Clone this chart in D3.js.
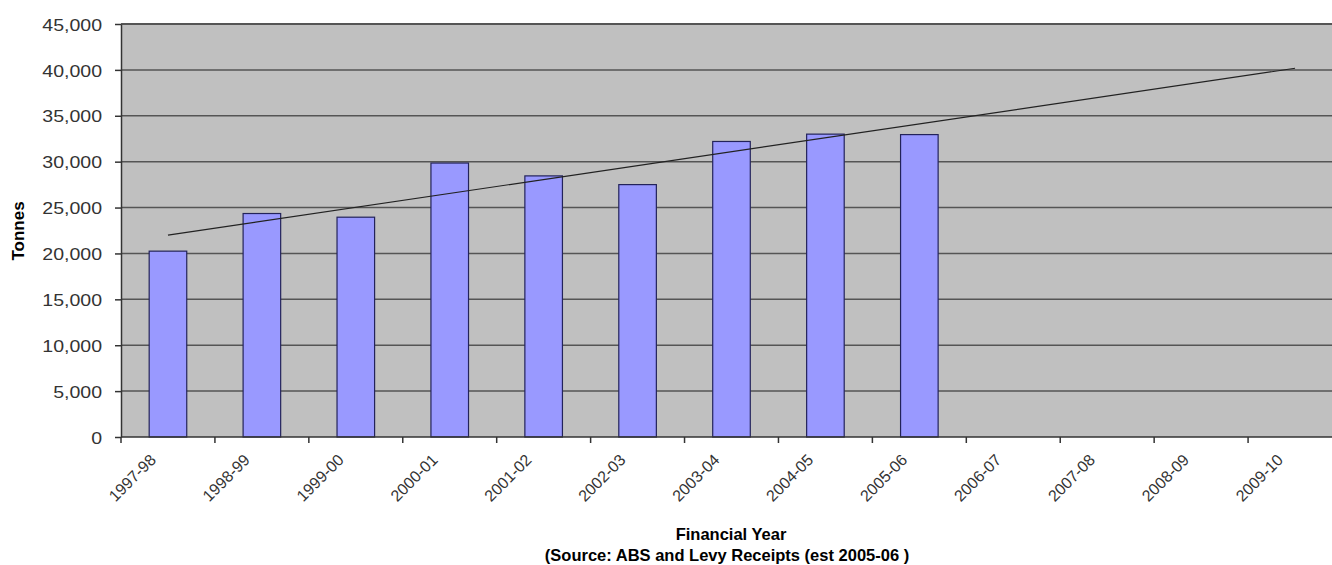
<!DOCTYPE html>
<html>
<head>
<meta charset="utf-8">
<script src="https://cdn.jsdelivr.net/npm/d3@7"></script>
<style>
  html, body { margin: 0; padding: 0; background: #fff; overflow: hidden; }
  svg { display: block; }
</style>
</head>
<body>
<svg id="chart" width="1332" height="565"></svg>
<script>
const categories = ["1997-98","1998-99","1999-00","2000-01","2001-02","2002-03","2003-04","2004-05","2005-06","2006-07","2007-08","2008-09","2009-10"];
const tonnes = [20250, 24350, 23950, 29850, 28450, 27500, 32200, 33000, 32950];
const yTicks = [0, 5000, 10000, 15000, 20000, 25000, 30000, 35000, 40000, 45000];
const yTitle = "Tonnes";
const xTitle = "Financial Year";
const sourceNote = "(Source: ABS and Levy Receipts (est 2005-06 )";

(function() {
const svg = d3.select("#chart");
const pL = 121, pR = 1342, pT = 24, pB = 437;
const font = "Liberation Sans, Arial, sans-serif";

const x = d3.scaleBand().domain(categories).range([pL, pR]).paddingInner(0.6).paddingOuter(0.3);
const xStep = d3.scalePoint().domain(categories).range([pL, pR]).padding(0.5);
const y = d3.scaleLinear().domain([0, 45000]).range([pB, pT]);

// plot background
svg.append("rect").attr("x", pL).attr("y", pT).attr("width", pR - pL).attr("height", pB - pT).attr("fill", "#c0c0c0");

// gridlines
svg.append("g").selectAll("line").data(yTicks.filter(d => d > 0)).join("line")
  .attr("x1", pL).attr("x2", pR)
  .attr("y1", d => y(d)).attr("y2", d => y(d))
  .attr("stroke", "#555").attr("stroke-width", d => d === 45000 ? 2 : 1.5);

// bars
svg.append("g").selectAll("rect").data(tonnes).join("rect")
  .attr("x", (d, i) => x(categories[i]))
  .attr("y", d => y(d))
  .attr("width", x.bandwidth())
  .attr("height", d => y(0) - y(d))
  .attr("fill", "#9999ff")
  .attr("stroke", "#23235a").attr("stroke-width", 1.2);

// linear trend (least squares on the data, extended over all categories)
const mx = d3.mean(tonnes, (d, i) => i);
const my = d3.mean(tonnes);
const slope = d3.sum(tonnes, (d, i) => (i - mx) * (d - my)) / d3.sum(tonnes, (d, i) => (i - mx) * (i - mx));
const intercept = my - slope * mx;
const trend = categories.map((c, i) => ({c, v: intercept + slope * i}));
svg.append("path").datum([trend[0], trend[trend.length - 1]])
  .attr("d", d3.line().x(d => xStep(d.c)).y(d => y(d.v)))
  .attr("fill", "none").attr("stroke", "#222").attr("stroke-width", 1.2);

// y axis
const yAxis = d3.axisLeft(y).tickValues(yTicks).tickSize(6).tickSizeOuter(0).tickFormat(d3.format(","));
const gy = svg.append("g").attr("transform", `translate(${pL},0)`).call(yAxis);
gy.select(".domain").attr("stroke", "#333").attr("stroke-width", 1.5);
gy.selectAll(".tick line").attr("stroke", "#333").attr("stroke-width", 1.5);
gy.selectAll(".tick text").attr("x", 0).attr("dy", "0.36em")
  .attr("transform", "translate(-19,0) scale(1.15,1)")
  .attr("font-family", font).attr("font-size", 17).attr("fill", "#333");

// x axis: ticks at category boundaries
const boundaries = d3.range(categories.length + 1).map(i => pL + i * x.step());
svg.append("line").attr("x1", pL).attr("x2", pR).attr("y1", pB).attr("y2", pB)
  .attr("stroke", "#333").attr("stroke-width", 1.5);
svg.append("g").selectAll("line").data(boundaries).join("line")
  .attr("x1", d => d).attr("x2", d => d).attr("y1", pB).attr("y2", pB + 6)
  .attr("stroke", "#333").attr("stroke-width", 1.5);
svg.append("g").selectAll("text").data(categories).join("text")
  .attr("transform", d => `translate(${xStep(d) - 15},${pB + 20}) rotate(-45)`)
  .attr("text-anchor", "end")
  .attr("dy", "0.35em")
  .attr("font-family", font).attr("font-size", 16).attr("fill", "#333")
  .text(d => d);

// titles
svg.append("text").attr("transform", "translate(24,231) rotate(-90)")
  .attr("text-anchor", "middle").attr("font-family", font)
  .attr("font-weight", "bold").attr("font-size", 17).attr("fill", "#000").text(yTitle);
svg.append("text").attr("x", 731).attr("y", 540)
  .attr("text-anchor", "middle").attr("font-family", font)
  .attr("font-weight", "bold").attr("font-size", 16.5).attr("fill", "#000").text(xTitle);
svg.append("text").attr("x", 727).attr("y", 561)
  .attr("text-anchor", "middle").attr("font-family", font)
  .attr("font-weight", "bold").attr("font-size", 16.5).attr("fill", "#000").text(sourceNote);
})();
</script>
</body>
</html>
